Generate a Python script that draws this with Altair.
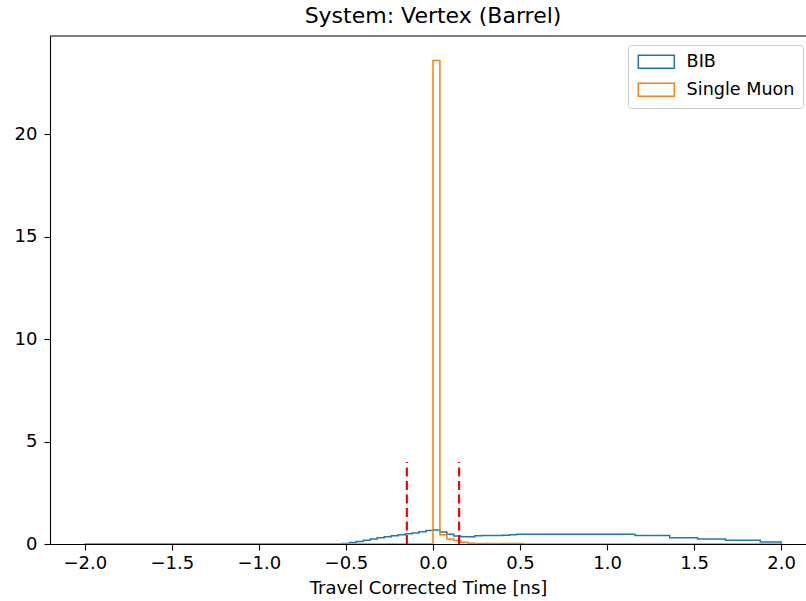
import altair as alt
import pandas as pd

# Histogram binning: 100 bins of 0.04 ns from -2 to 2
edges = [round(-2 + 0.04 * i, 2) for i in range(101)]

# BIB bin contents (bins 0..99)
bib_values = (
    [0.0] * 37
    + [0.02, 0.07, 0.12, 0.18, 0.24, 0.30, 0.35, 0.40, 0.45, 0.50, 0.54, 0.60, 0.66,
       0.68, 0.58, 0.47, 0.39, 0.36, 0.36, 0.40, 0.41, 0.42, 0.42, 0.43, 0.45,
       0.47, 0.47, 0.47, 0.47, 0.47, 0.47, 0.47, 0.47, 0.47, 0.47, 0.47, 0.47,
       0.47, 0.47, 0.47, 0.47, 0.47,
       0.41, 0.41, 0.41, 0.41, 0.41,
       0.30, 0.30, 0.30, 0.30,
       0.24, 0.24, 0.24, 0.24,
       0.18, 0.18, 0.18, 0.18, 0.18,
       0.10, 0.10, 0.10]
)

# Single Muon bin contents (bins 0..99)
muon_values = (
    [0.0] * 50
    + [23.6, 0.45, 0.25, 0.17, 0.08, 0.04, 0.02, 0.02, 0.02, 0.02, 0.02, 0.02, 0.02]
    + [0.0] * 37
)

series_names = ["BIB", "Single Muon"]
series_colors = ["#1f77b4", "#ff7f0e"]

cut_x = [-0.15, 0.15]
cut_top = [4.0, 4.0]

rows = []
for name, vals in zip(series_names, [bib_values, muon_values]):
    for i, e in enumerate(edges):
        v = vals[i] if i < len(vals) else 0.0
        rows.append({"series": name, "t": e, "v": v, "i": i})
df = pd.DataFrame(rows)

x_scale = alt.Scale(domain=[-2.2, 2.143], nice=False, zero=False)
y_scale = alt.Scale(domain=[0, 24.8], nice=False)

hist = alt.Chart(df).mark_line(interpolate="step-after", strokeWidth=1.5, clip=True).encode(
    x=alt.X("t:Q", scale=x_scale,
            axis=alt.Axis(values=[-2, -1.5, -1, -0.5, 0, 0.5, 1, 1.5, 2], format=".1f",
                          title="Travel Corrected Time [ns]", labelPadding=4, titlePadding=7)),
    y=alt.Y("v:Q", scale=y_scale,
            axis=alt.Axis(values=[0, 5, 10, 15, 20], title=None, labelPadding=7)),
    color=alt.Color("series:N", scale=alt.Scale(domain=series_names, range=series_colors),
                    legend=alt.Legend(title=None, orient="none", legendX=578, legendY=9,
                                      fillColor="rgba(255,255,255,0.8)", strokeColor="#cccccc",
                                      cornerRadius=3, padding=8,
                                      labelFontSize=17.6, labelFont="DejaVu Sans", labelColor="black",
                                      labelOffset=21.5, rowPadding=8, symbolOffset=11.5,
                                      symbolType="M-2.77,-1H2.77V1H-2.77Z", symbolSize=169,
                                      symbolStrokeWidth=1.5, symbolFillColor="transparent")),
    order=alt.Order("i:Q"),
)

cut_df = pd.DataFrame({"x": cut_x, "y0": [0.0, 0.0], "y1": cut_top})
cuts = alt.Chart(cut_df).mark_rule(color="red", strokeDash=[9, 4.5], strokeWidth=2.2).encode(
    x=alt.X("x:Q", scale=x_scale),
    y=alt.Y("y0:Q", scale=y_scale),
    y2="y1:Q",
)

top_df = pd.DataFrame({"a": [0]})
top_line = alt.Chart(top_df).mark_rule(color="black", strokeWidth=1.1).encode(
    x=alt.value(0), x2=alt.value(756), y=alt.value(0)
)

chart = alt.layer(hist, cuts, top_line).properties(
    width=756, height=508,
    background="white",
    padding={"left": 50, "top": 36, "right": 0, "bottom": 57},
    autosize=alt.AutoSizeParams(type="none"),
    title=alt.TitleParams("System: Vertex (Barrel)", fontSize=22, font="DejaVu Sans",
                          fontWeight="normal", color="black", anchor="middle", dx=5, offset=7),
).configure_view(stroke=None).configure_axis(
    labelFont="DejaVu Sans", labelFontSize=18, labelColor="black",
    titleFont="DejaVu Sans", titleFontSize=18, titleFontWeight="normal", titleColor="black",
    domainColor="black", domainWidth=1.1, tickColor="black", tickWidth=1.1, tickSize=6,
    grid=False,
)

chart.save("out.html", embed_options={"renderer": "svg", "actions": False})
